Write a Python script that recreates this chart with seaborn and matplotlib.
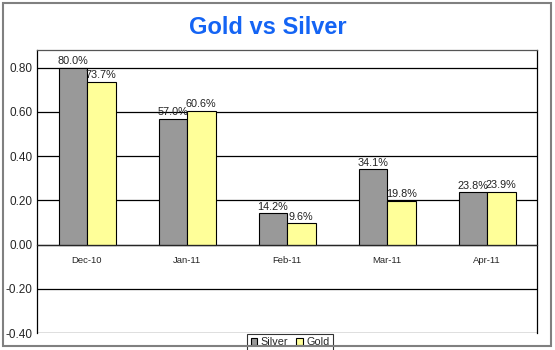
import matplotlib
matplotlib.use("Agg")
import matplotlib.pyplot as plt
import matplotlib.patches as mpatches
import seaborn as sns
import pandas as pd

months = ["Dec-10", "Jan-11", "Feb-11", "Mar-11", "Apr-11"]
silver = [0.800, 0.570, 0.142, 0.341, 0.238]
gold = [0.737, 0.606, 0.096, 0.198, 0.239]
series = ["Silver", "Gold"]
colors = ["#999999", "#FFFF99"]
yticks = [-0.40, -0.20, 0.00, 0.20, 0.40, 0.60, 0.80]

df = pd.DataFrame({
    "month": months * 2,
    "value": silver + gold,
    "series": [series[0]] * len(months) + [series[1]] * len(months),
})

sns.set_style("white")
plt.rcParams["font.family"] = ["Liberation Sans", "DejaVu Sans"]

fig = plt.figure(figsize=(5.55, 3.5), dpi=100)
fig.patch.set_facecolor("white")
ax = fig.add_axes([37 / 555, 1 - 333 / 350, 500 / 555, 283 / 350])

sns.barplot(data=df, x="month", y="value", hue="series", order=months,
            hue_order=series, palette=colors, width=0.57,
            edgecolor="black", linewidth=0.8, saturation=1, ax=ax, legend=True)

ax.set_xlim(-0.5, len(months) - 0.5)
ax.set_ylim(-0.40, 0.88)
ax.set_yticks(yticks)
ax.set_yticklabels([f"{v:.2f}" for v in yticks], fontsize=8.5)
ax.set_xlabel("")
ax.set_ylabel("")
ax.yaxis.grid(True, color="black", linewidth=0.9)
ax.set_axisbelow(True)

# x axis at zero
ax.spines["bottom"].set_position(("data", 0))
ax.spines["bottom"].set_linewidth(0.9)
ax.set_xticks(range(len(months)))
ax.set_xticklabels(months, fontsize=6.8)
ax.tick_params(axis="x", which="major", length=0, pad=8)
ax.set_xticks([i + 0.5 for i in range(len(months) - 1)], minor=True)
ax.tick_params(axis="x", which="minor", length=3, direction="out", width=0.8)
ax.tick_params(axis="y", length=0, pad=3.5)
for s in ["left", "right", "top"]:
    ax.spines[s].set_color("black")
    ax.spines[s].set_linewidth(0.9)
ax.spines["top"].set_color("#555555")

for cont in ax.containers:
    labels = [f"{b.get_height() * 100:.1f}%" for b in cont]
    ax.bar_label(cont, labels=labels, fontsize=7.8, padding=1, color="#222222")

leg = ax.legend(loc="upper center", bbox_to_anchor=(290 / 555, 1 - 334 / 350),
                bbox_transform=fig.transFigure, ncol=2, fontsize=7.8,
                frameon=True, fancybox=False, handlelength=0.6, handleheight=0.6,
                handletextpad=0.3, columnspacing=0.8, borderpad=0.3,
                borderaxespad=0)
leg.get_frame().set_edgecolor("black")
leg.get_frame().set_linewidth(0.8)

fig.text(268 / 555, 1 - 27 / 350, "Gold vs Silver", ha="center", va="center",
         fontsize=17, fontweight="bold", color="#1464F4")

border = mpatches.Rectangle((3 / 555, 4 / 350), 548 / 555, 343 / 350,
                            transform=fig.transFigure, fill=False,
                            edgecolor="#808080", linewidth=1.5)
fig.patches.append(border)

fig.savefig("out.png", dpi=100)
